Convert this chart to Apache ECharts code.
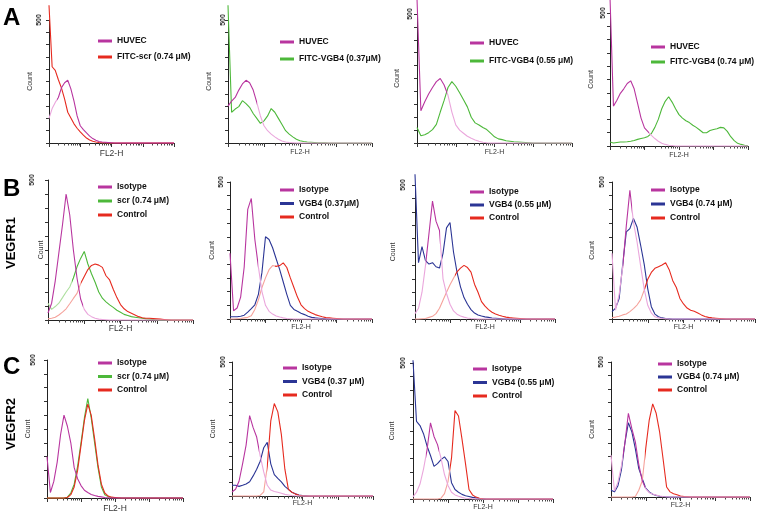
<!DOCTYPE html>
<html><head><meta charset="utf-8">
<script src="https://cdn.jsdelivr.net/npm/echarts@6/dist/echarts.min.js"></script>
<style>html,body{margin:0;padding:0;background:#fff}#c{width:760px;height:515px}</style>
</head><body><div id="c"></div>
<script>
// FL2-H channel bins (log scale, 10 per decade)
const fl2Bins = [1,1.259,1.585,1.995,2.512,3.162,3.981,5.012,6.31,7.943, 10,12.59,15.85,19.95,25.12,31.62,39.81,50.12,63.1,79.43, 100,125.9,158.5,199.5,251.2,316.2,398.1,501.2,631,794.3, 1000,1259,1585,1995,2512,3162,3981,5012,6310,7943, 10000];
const countMax = 500;
const countStep = 50;
const countTickLabel = 500;

// Row A
const a1Huvec   = [100,140,165,185,225,245,255,220,170,110, 70,54,41,28,18,11,6,4,3,2, 1,0,0,0,0,0,0,0,0,0, 0,0,0,0,0,0,0,0,0,0, 0];
const a1FitcScr = [560,310,295,257,223,178,125,102,78,60, 45,32,20,12,7,4,2,1,1,0, 0,0,0,0,0,0,0,0,0,0, 0,0,0,0,0,0,0,0,0,0, 0];
const a2Huvec   = [150,170,185,215,240,255,245,215,165,110, 70,50,36,25,15,8,4,2,1,0, 0,0,0,0,0,0,0,0,0,0, 0,0,0,0,0,0,0,0,0,0, 0];
const a2Vgb4    = [560,125,138,148,172,160,145,120,100,80, 90,110,140,125,100,75,50,36,25,15, 9,6,4,3,2,1,1,1,0,0, 0,0,0,0,0,0,0,0,0,0, 0];
const a3Huvec   = [560,125,160,190,215,238,250,225,185,120, 70,50,38,26,18,12,7,3,1,0, 0,0,0,0,0,0,0,0,0,0, 0,0,0,0,0,0,0,0,0,0, 0];
const a3Vgb4    = [60,28,32,40,52,72,120,165,215,238, 220,195,168,140,100,78,70,60,52,38, 24,16,13,9,7,5,4,3,2,1, 0,0,0,0,0,0,0,0,0,0, 0];
const a4Huvec   = [560,150,172,198,215,235,245,215,160,105, 68,54,40,28,18,10,6,3,2,0, 0,0,0,0,0,0,0,0,0,0, 0,0,0,0,0,0,0,0,0,0, 0];
const a4Vgb4    = [15,11,13,15,15,16,18,21,25,28, 31,36,47,70,100,140,168,185,165,140, 118,105,95,88,78,70,60,50,50,58, 62,65,70,68,55,35,20,10,6,3, 1];
// Row B (VEGFR1)
const b1Iso     = [25,60,140,240,340,450,375,250,150,75, 38,20,12,6,3,2,1,0,0,0, 0,0,0,0,0,0,0,0,0,0, 0,0,0,0,0,0,0,0,0,0, 0];
const b1Scr     = [60,38,48,60,80,100,118,150,190,220, 245,200,165,135,100,78,65,54,45,35, 28,20,16,12,10,8,6,4,3,2, 1,0,0,0,0,0,0,0,0,0, 0];
const b1Ctrl    = [4,6,10,18,28,40,58,77,95,130, 155,180,195,200,196,188,158,143,110,80, 55,40,30,24,18,12,8,6,6,5, 4,3,2,1,0,0,0,0,0,0, 0];
const b2Iso     = [240,30,40,80,190,400,440,290,190,100, 50,28,18,11,7,4,2,1,0,0, 0,0,0,0,0,0,0,0,0,0, 0,0,0,0,0,0,0,0,0,0, 0];
const b2Vgb4    = [8,8,8,10,14,25,38,52,90,170, 300,290,260,220,180,135,90,50,35,28, 21,16,10,6,4,3,2,1,0,0, 0,0,0,0,0,0,0,0,0,0, 0];
const b2Ctrl    = [0,0,1,2,4,6,12,35,70,115, 150,180,195,192,195,205,188,150,115,80, 52,38,28,22,16,12,8,5,4,3, 2,1,0,0,0,0,0,0,0,0, 0];
const b3Iso     = [20,40,100,200,320,440,365,330,150,95, 55,30,18,11,7,4,2,1,0,0, 0,0,0,0,0,0,0,0,0,0, 0,0,0,0,0,0,0,0,0,0, 0];
const b3Vgb4    = [540,210,270,218,205,210,195,190,245,340, 360,250,175,120,80,55,35,22,15,11, 8,6,4,3,2,1,0,0,0,0, 0,0,0,0,0,0,0,0,0,0, 0];
const b3Ctrl    = [0,0,1,2,6,10,20,40,70,100, 128,152,176,190,200,192,175,130,100,65, 48,35,25,19,14,10,7,5,4,3, 2,1,0,0,0,0,0,0,0,0, 0];
const b4Iso     = [240,32,90,190,340,470,354,282,195,110, 50,22,8,4,2,1,0,0,0,0, 0,0,0,0,0,0,0,0,0,0, 0,0,0,0,0,0,0,0,0,0, 0];
const b4Vgb4    = [27,40,75,200,318,330,367,336,270,200, 110,45,18,8,4,2,1,0,0,0, 0,0,0,0,0,0,0,0,0,0, 0,0,0,0,0,0,0,0,0,0, 0];
const b4Ctrl    = [5,7,10,15,18,27,38,51,70,105, 145,170,185,191,197,205,180,140,115,75, 55,40,32,28,22,15,9,6,4,3, 2,1,0,0,0,0,0,0,0,0, 0];
// Row C (VEGFR2)
const c1Iso     = [150,20,60,130,230,300,260,200,110,70, 45,28,20,13,9,6,4,2,1,0, 0,0,0,0,0,0,0,0,0,0, 0,0,0,0,0,0,0,0,0,0, 0];
const c1Scr     = [0,0,0,0,0,0,3,18,50,115, 200,290,360,290,200,110,40,12,5,2, 1,0,0,0,0,0,0,0,0,0, 0,0,0,0,0,0,0,0,0,0, 0];
const c1Ctrl    = [0,0,0,0,0,0,2,12,40,100, 190,280,340,300,215,120,50,18,7,3, 2,1,0,0,0,0,0,0,0,0, 0,0,0,0,0,0,0,0,0,0, 0];
const c2Iso     = [15,25,55,120,190,300,255,220,150,90, 40,22,17,14,10,6,4,2,1,0, 0,0,0,0,0,0,0,0,0,0, 0,0,0,0,0,0,0,0,0,0, 0];
const c2Vgb4    = [40,40,36,40,45,53,75,100,130,180, 200,120,80,66,53,36,25,14,8,4, 2,1,0,0,0,0,0,0,0,0, 0,0,0,0,0,0,0,0,0,0, 0];
const c2Ctrl    = [0,0,0,0,0,0,0,0,2,15, 110,280,345,314,230,100,25,14,7,3, 1,0,0,0,0,0,0,0,0,0, 0,0,0,0,0,0,0,0,0,0, 0];
const c3Iso     = [8,25,55,110,180,280,230,200,150,90, 50,25,15,10,6,3,2,1,0,0, 0,0,0,0,0,0,0,0,0,0, 0,0,0,0,0,0,0,0,0,0, 0];
const c3Vgb4    = [510,285,270,240,195,160,120,130,145,155, 138,60,35,25,17,12,9,6,4,2, 1,0,0,0,0,0,0,0,0,0, 0,0,0,0,0,0,0,0,0,0, 0];
const c3Ctrl    = [0,0,0,0,0,0,0,0,3,20, 64,150,325,305,220,130,35,15,7,3, 1,0,0,0,0,0,0,0,0,0, 0,0,0,0,0,0,0,0,0,0, 0];
const c4Iso     = [155,22,55,115,200,310,253,204,120,60, 30,16,11,7,4,2,1,0,0,0, 0,0,0,0,0,0,0,0,0,0, 0,0,0,0,0,0,0,0,0,0, 0];
const c4Vgb4    = [25,19,42,100,200,275,241,179,105,68, 33,19,10,6,3,2,1,0,0,0, 0,0,0,0,0,0,0,0,0,0, 0,0,0,0,0,0,0,0,0,0, 0];
const c4Ctrl    = [0,0,0,0,0,0,0,2,25,60, 180,285,345,310,240,140,37,19,12,8, 4,2,1,0,0,0,0,0,0,0, 0,0,0,0,0,0,0,0,0,0, 0];

const panels = [
  {curves:[{n:'HUVEC',d:a1Huvec,c:'mag',f:[0.08,1]},{n:'FITC-scr (0.74 μM)',d:a1FitcScr,c:'red'}]},
  {curves:[{n:'HUVEC',d:a2Huvec,c:'mag',f:[0,0.21]},{n:'FITC-VGB4 (0.37μM)',d:a2Vgb4,c:'green'}]},
  {curves:[{n:'HUVEC',d:a3Huvec,c:'mag',f:[0,0.2]},{n:'FITC-VGB4 (0.55 μM)',d:a3Vgb4,c:'green'}]},
  {curves:[{n:'HUVEC',d:a4Huvec,c:'mag',f:[0,0.29]},{n:'FITC-VGB4 (0.74 μM)',d:a4Vgb4,c:'green'}]},
  {curves:[{n:'Isotype',d:b1Iso,c:'mag',f:[0,0.25]},{n:'scr (0.74 μM)',d:b1Scr,c:'green',f:[0.18,1]},{n:'Control',d:b1Ctrl,c:'red',f:[0.24,1]}]},
  {curves:[{n:'Isotype',d:b2Iso,c:'mag',f:[0,0.21]},{n:'VGB4 (0.37μM)',d:b2Vgb4,c:'blue'},{n:'Control',d:b2Ctrl,c:'red',f:[0.32,1]}]},
  {curves:[{n:'Isotype',d:b3Iso,c:'mag',f:[0.09,0.19]},{n:'VGB4 (0.55 μM)',d:b3Vgb4,c:'blue'},{n:'Control',d:b3Ctrl,c:'red',f:[0.29,1]}]},
  {curves:[{n:'Isotype',d:b4Iso,c:'mag',f:[0.09,0.15]},{n:'VGB4 (0.74 μM)',d:b4Vgb4,c:'blue'},{n:'Control',d:b4Ctrl,c:'red',f:[0.23,1]}]},
  {curves:[{n:'Isotype',d:c1Iso,c:'mag'},{n:'scr (0.74 μM)',d:c1Scr,c:'green'},{n:'Control',d:c1Ctrl,c:'red'}]},
  {curves:[{n:'Isotype',d:c2Iso,c:'mag',f:[0,0.2]},{n:'VGB4 (0.37 μM)',d:c2Vgb4,c:'blue'},{n:'Control',d:c2Ctrl,c:'red',f:[0.255,1]}]},
  {curves:[{n:'Isotype',d:c3Iso,c:'mag',f:[0.107,0.2]},{n:'VGB4 (0.55 μM)',d:c3Vgb4,c:'blue'},{n:'Control',d:c3Ctrl,c:'red',f:[0.27,1]}]},
  {curves:[{n:'Isotype',d:c4Iso,c:'mag',f:[0.1,0.25]},{n:'VGB4 (0.74 μM)',d:c4Vgb4,c:'blue'},{n:'Control',d:c4Ctrl,c:'red',f:[0.25,1]}]}
];

// Layout (pixels)
const layout = [
  {g:[49,20,125,123],  lg:[98,36,6],   cg:15, lm:6, ng:6, ns:8.5},
  {g:[228,20,144,123], lg:[280,37,7],  cg:15, lm:1, ng:6, ns:7},
  {g:[417,14,155,129], lg:[470,38,8],  cg:16, lm:3, ng:6, ns:7},
  {g:[610,13,138,133], lg:[651,42,5],  cg:15, lm:3, ng:6, ns:7},
  {g:[48,180,145,140], lg:[98,182,4],  cg:3,  lm:12, ng:4, ns:8.5},
  {g:[230,182,142,137],lg:[280,185,3.5],cg:14, lm:5, ng:5, ns:7},
  {g:[415,185,140,134],lg:[470,187,3], cg:18, lm:8, ng:5, ns:7},
  {g:[612,182,143,137],lg:[651,185,4], cg:16, lm:6, ng:5, ns:7},
  {g:[47,360,136,138], lg:[98,358,3.5],cg:15, lm:10, ng:6, ns:8.5},
  {g:[232,362,141,134],lg:[283,363,3.5],cg:15, lm:5, ng:4, ns:7},
  {g:[413,363,140,136],lg:[473,364,3.5],cg:17, lm:6, ng:5, ns:7},
  {g:[611,362,139,135],lg:[658,359,3], cg:15, lm:6, ng:5, ns:7}
];

const palette = {mag:['#b8359f','#eaa6dc'], red:['#e62a1f','#f5a29b'], green:['#4db83a','#addf9e'], blue:['#2b3595','#a9b0e0']};
const FONT = 'Liberation Sans, Arial, sans-serif';

function stroke(c, f){
  const [d,l] = palette[c];
  if(!f) return d;
  const a=f[0], b=f[1];
  return {type:'linear',x:0,y:0,x2:1,y2:0,colorStops:[
    {offset:0,color:a>0?l:d},{offset:a,color:a>0?l:d},{offset:a,color:d},
    {offset:b,color:d},{offset:b,color:b<1?l:d},{offset:1,color:b<1?l:d}]};
}

const grid=[], xAxis=[], yAxis=[], series=[], legend=[];
panels.forEach((p,k)=>{
  const L = layout[k];
  grid.push({left:L.g[0], top:L.g[1], width:L.g[2], height:L.g[3], containLabel:false});
  xAxis.push({type:'log', logBase:10, gridIndex:k, min:1, max:10000,
    axisLine:{show:true, lineStyle:{color:'#222',width:1}},
    axisTick:{show:true, length:4, lineStyle:{color:'#333'}},
    minorTick:{show:true, splitNumber:9, length:2.5, lineStyle:{color:'#444'}},
    axisLabel:{show:false}, splitLine:{show:false}, minorSplitLine:{show:false},
    name:'FL2-H', nameLocation:'middle', nameGap:L.ng, nameMoveOverlap:false,
    nameTextStyle:{fontSize:L.ns, color:'#333', fontFamily:FONT}});
  yAxis.push({type:'value', gridIndex:k, min:0, max:countMax, interval:countStep,
    axisLine:{show:true, lineStyle:{color:'#222',width:1}},
    axisTick:{show:true, length:3, lineStyle:{color:'#333'}},
    axisLabel:{show:true, rotate:90, margin:L.lm, fontSize:7, fontWeight:'bold', color:'#333', fontFamily:FONT,
      formatter:v=> v===countTickLabel? String(v):''},
    splitLine:{show:false},
    name:'Count', nameLocation:'middle', nameGap:L.cg, nameMoveOverlap:false,
    nameTextStyle:{fontSize:7, color:'#333', fontFamily:FONT}});
  p.curves.forEach((cv,j)=>{
    series.push({type:'line', name:cv.n, xAxisIndex:k, yAxisIndex:k,
      data: fl2Bins.map((x,i)=>[x, cv.d[i]]),
      showSymbol:false, symbol:'none', clip:false, silent:true,
      z: 2 + (cv.c==='mag'?1:0),
      lineStyle:{width:1.1, color:stroke(cv.c, cv.f)},
      itemStyle:{color:palette[cv.c][0]}});
  });
  legend.push({orient:'vertical', left:L.lg[0], top:L.lg[1], itemGap:L.lg[2],
    itemWidth:14, itemHeight:3, icon:'rect', selectedMode:false, padding:0,
    textStyle:{fontSize:8.5, fontWeight:'bold', color:'#111', fontFamily:FONT, lineHeight:10},
    data:p.curves.map(cv=>({name:cv.n, icon:'rect', itemStyle:{color:palette[cv.c][0]}}))});
});

const graphic = [
  {type:'text', left:3, top:6, style:{text:'A', font:'bold 24px '+FONT, fill:'#000'}},
  {type:'text', left:3, top:177, style:{text:'B', font:'bold 24px '+FONT, fill:'#000'}},
  {type:'text', left:3, top:355, style:{text:'C', font:'bold 24px '+FONT, fill:'#000'}},
  {type:'text', x:11, y:243, rotation:Math.PI/2, style:{text:'VEGFR1', font:'bold 13px '+FONT, fill:'#000', align:'center', verticalAlign:'middle'}},
  {type:'text', x:11, y:424, rotation:Math.PI/2, style:{text:'VEGFR2', font:'bold 13px '+FONT, fill:'#000', align:'center', verticalAlign:'middle'}}
];

const chart = echarts.init(document.getElementById('c'), null, {renderer:'canvas'});
chart.setOption({animation:false, backgroundColor:'#fff', grid, xAxis, yAxis, series, legend, graphic});
</script></body></html>
